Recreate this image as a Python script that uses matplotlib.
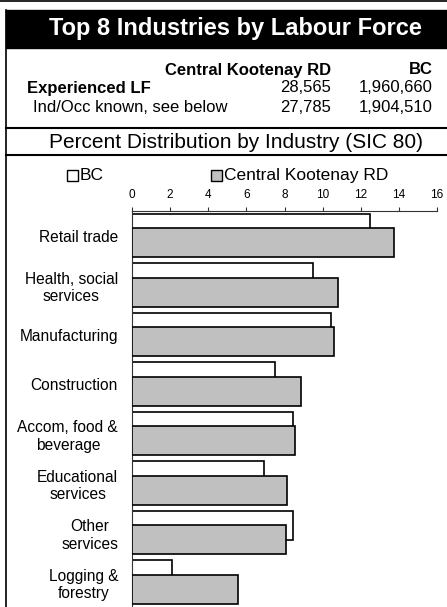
import numpy as np
from matplotlib import pyplot as plt
from matplotlib.lines import Line2D
from matplotlib.patches import Rectangle

font_name = 'Liberation Sans'
plt.rcParams['font.family'] = [font_name, 'DejaVu Sans']

W, H = 447, 607

industries = ['Retail trade', 'Health, social\nservices', 'Manufacturing', 'Construction',
              'Accom, food &\nbeverage', 'Educational\nservices', 'Other\nservices', 'Logging &\nforestry']
bc_values = [12.5, 9.5, 10.45, 7.5, 8.45, 6.9, 8.45, 2.1]
ck_values = [13.75, 10.8, 10.6, 8.85, 8.55, 8.15, 8.1, 5.55]
x_ticks = [0, 2, 4, 6, 8, 10, 12, 14, 16]

table_header = ['Central Kootenay RD', 'BC']
table_rows = [('Experienced LF', '28,565', '1,960,660'),
              ('Ind/Occ known, see below', '27,785', '1,904,510')]

title = 'Top 8 Industries by Labour Force'
subtitle = 'Percent Distribution by Industry (SIC 80)'
series_names = ['BC', 'Central Kootenay RD']
colors = ['white', '#c0c0c0']


def fx(px):
    return px / W


def fy(py):
    return 1 - py / H


fig = plt.figure(figsize=(W / 100, H / 100), dpi=100)

# frame pieces
fig.add_artist(Line2D([0, 1], [fy(1), fy(1)], color='black', lw=1.2))
fig.add_artist(Rectangle((fx(6), fy(48)), 1 - fx(6), fy(10) - fy(48), color='black'))
fig.add_artist(Line2D([fx(6), fx(6)], [fy(10), 0], color='black', lw=1.2))
for py in [128, 155]:
    fig.add_artist(Line2D([fx(6), 1], [fy(py), fy(py)], color='black', lw=1.5))

fig.text(fx(235), fy(29), title, color='white', fontsize=17, fontweight='bold', ha='center', va='center')

# table
fs = 12
fig.text(fx(331), fy(70), table_header[0], fontsize=fs, fontweight='bold', ha='right', va='center')
fig.text(fx(433), fy(70), table_header[1], fontsize=fs, fontweight='bold', ha='right', va='center')
row_y = [88, 107]
row_x = [27, 33]
for i, (name, ck, bc) in enumerate(table_rows):
    weight = 'bold' if i == 0 else 'normal'
    fig.text(fx(row_x[i]), fy(row_y[i]), name, fontsize=fs, fontweight=weight, ha='left', va='center')
    fig.text(fx(331), fy(row_y[i]), ck, fontsize=fs, ha='right', va='center')
    fig.text(fx(433), fy(row_y[i]), bc, fontsize=fs, ha='right', va='center')

fig.text(fx(236), fy(142), subtitle, fontsize=15, ha='center', va='center')

# legend
legend_items = [(67, series_names[0], colors[0]), (211, series_names[1], colors[1])]
for px, name, color in legend_items:
    fig.add_artist(Rectangle((fx(px), fy(181)), fx(11), fy(170) - fy(181), facecolor=color,
                             edgecolor='black', lw=1))
    fig.text(fx(px + 13), fy(176), name, fontsize=12.5, ha='left', va='center')

# chart
ax = fig.add_axes([fx(132), 0, fx(437) - fx(132), fy(211)])
y = np.arange(len(industries))
bar_h = 0.58
ax.barh(y - 0.15, bc_values, height=bar_h, color=colors[0], edgecolor='black', lw=1.2, zorder=2)
ax.barh(y + 0.14, ck_values, height=bar_h, color=colors[1], edgecolor='black', lw=1.2, zorder=3)
ax.set_ylim(len(industries) - 0.5, -0.5)
ax.set_xlim(0, 16)
ax.set_xticks(x_ticks)
ax.xaxis.set_ticks_position('top')
ax.tick_params(axis='x', direction='out', length=3, labelsize=8.5, pad=4, color='#333333')
ax.set_yticks(y)
ax.set_yticklabels(industries, fontsize=11.2, linespacing=1.2)
ax.tick_params(axis='y', length=0, pad=10)
for label in ax.get_yticklabels():
    label.set_ha('right')
    label.set_multialignment('center')
for side in ['right', 'bottom']:
    ax.spines[side].set_visible(False)
ax.spines['top'].set_color('#333333')
ax.spines['left'].set_color('#333333')

plt.savefig('out.png', dpi=100)
plt.close()
